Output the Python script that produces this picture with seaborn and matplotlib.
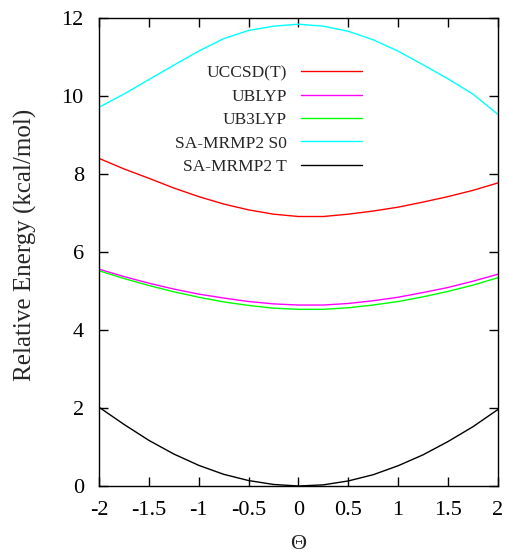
import numpy as np
import pandas as pd
import seaborn as sns
import matplotlib
matplotlib.use("Agg")
import matplotlib.pyplot as plt

# Theta grid
theta = [-2.0, -1.75, -1.5, -1.25, -1.0, -0.75, -0.5, -0.25, 0.0,
         0.25, 0.5, 0.75, 1.0, 1.25, 1.5, 1.75, 2.0]

# Relative energies (kcal/mol)
uccsdt = [8.40, 8.13, 7.89, 7.64, 7.42, 7.23, 7.08, 6.97, 6.91,
          6.91, 6.97, 7.05, 7.15, 7.28, 7.42, 7.58, 7.77]
ublyp = [5.56, 5.37, 5.20, 5.05, 4.92, 4.82, 4.73, 4.67, 4.64,
         4.64, 4.68, 4.75, 4.84, 4.96, 5.09, 5.25, 5.43]
ub3lyp = [5.52, 5.32, 5.14, 4.98, 4.84, 4.72, 4.63, 4.56, 4.53,
          4.53, 4.57, 4.64, 4.73, 4.85, 4.99, 5.15, 5.34]
mrmp2_s0 = [9.71, 10.05, 10.42, 10.79, 11.15, 11.47, 11.68, 11.79, 11.84,
            11.79, 11.66, 11.44, 11.15, 10.80, 10.44, 10.05, 9.53]
mrmp2_t = [2.02, 1.58, 1.17, 0.82, 0.53, 0.30, 0.14, 0.04, 0.00,
           0.03, 0.13, 0.29, 0.52, 0.80, 1.14, 1.52, 1.96]

labels = ["UCCSD(T)", "UBLYP", "UB3LYP", "SA-MRMP2 S0", "SA-MRMP2 T"]
colors = ["#ff0000", "#ff00ff", "#00ff00", "#00ffff", "#000000"]

series = [uccsdt, ublyp, ub3lyp, mrmp2_s0, mrmp2_t]
df = pd.concat(
    [pd.DataFrame({"theta": theta, "energy": vals, "method": name})
     for name, vals in zip(labels, series)],
    ignore_index=True,
)

sns.set_style("ticks")
plt.rcParams["font.family"] = ["Liberation Serif", "DejaVu Serif"]

fig = plt.figure(figsize=(5.08, 5.55), dpi=100)
ax = fig.add_axes([0.195, 0.1243, 0.785, 0.8433])

sns.lineplot(data=df, x="theta", y="energy", hue="method",
             hue_order=labels, palette=colors, linewidth=1.0, ax=ax)

ax.set_xlim(-2, 2)
ax.set_ylim(0, 12)
ax.set_xticks([-2, -1.5, -1, -0.5, 0, 0.5, 1, 1.5, 2])
ax.set_xticklabels(["-2", "-1.5", "-1", "-0.5", "0", "0.5", "1", "1.5", "2"])
ax.set_yticks([0, 2, 4, 6, 8, 10, 12])

ax.tick_params(direction="in", length=6.5, width=1, top=True, right=True,
               labelsize=16, pad=11, colors="black")
for sp in ax.spines.values():
    sp.set_visible(True)
    sp.set_linewidth(1)
    sp.set_color("black")

ax.set_xlabel("Θ", fontsize=16)
ax.set_ylabel("Relative Energy (kcal/mol)", fontsize=18)
ax.xaxis.set_label_coords(0.5, -0.104)
ax.yaxis.set_label_coords(-0.155, 0.515)

leg = ax.legend(loc="upper right", bbox_to_anchor=(0.682, 0.918),
                frameon=False, markerfirst=False, fontsize=12.5,
                borderpad=0, handlelength=3.55, handletextpad=0.8,
                labelspacing=0.42)

plt.savefig("out.png", dpi=100)
plt.close()
